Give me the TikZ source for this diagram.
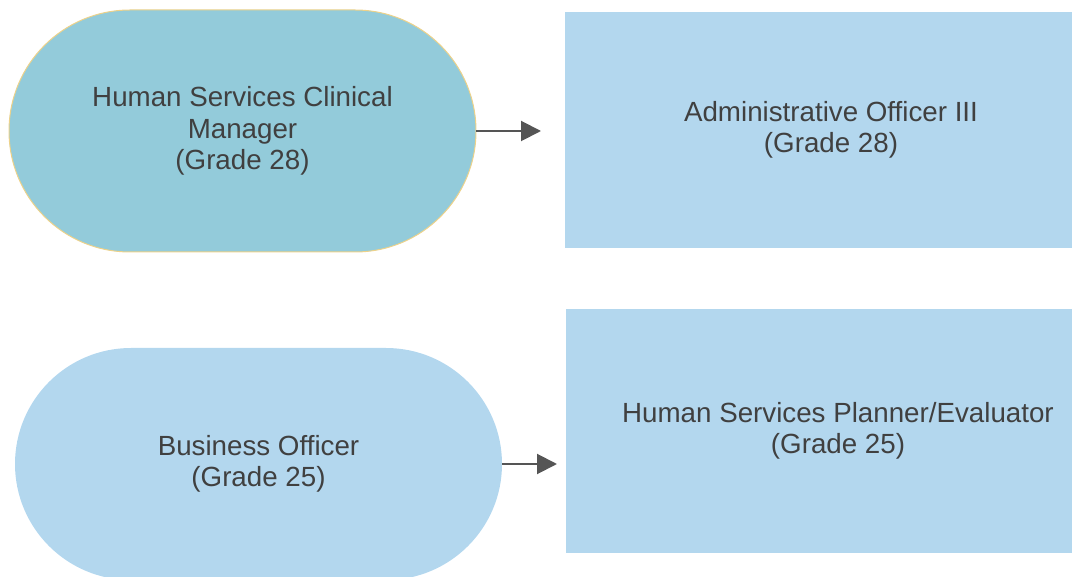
\documentclass[tikz,border=0pt]{standalone}
\usepackage{fontspec}
\setmainfont{Liberation Sans}
\usetikzlibrary{arrows.meta}
\definecolor{tealfill}{HTML}{93CBDA}
\definecolor{skyfill}{HTML}{B3D7EE}
\definecolor{goldline}{HTML}{EDD28A}
\definecolor{inktext}{HTML}{404040}
\definecolor{arrowgray}{HTML}{555555}

\begin{document}
\begin{tikzpicture}[x=0.75pt,y=0.75pt,yscale=-1,xscale=1,
    every node/.style={align=center,text=inktext,inner sep=0pt,outer sep=0pt,
        font=\fontsize{20.8}{23.5}\selectfont},
    pill/.style={rectangle,fill=skyfill},
    post/.style={rectangle,fill=skyfill},
    link/.style={draw=arrowgray,line width=1.5pt,-{Triangle[length=15pt,width=15pt]}}]
    \useasboundingbox (0,0) rectangle (1072,577);

    % Top row
    \node [pill,fill=tealfill,draw=goldline,line width=0.75pt,minimum width=350.25pt,minimum height=181.5pt,rounded corners=90.75pt] (hscm) at (242.5,131) {Human Services Clinical\\Manager\\(Grade 28)};
    \node [post,minimum width=399pt,minimum height=177pt] (aoiii) at (831,130) {Administrative Officer III\\(Grade 28)};

    % Bottom row
    \node [pill,minimum width=365.25pt,minimum height=174pt,rounded corners=87pt] (bo) at (258.5,464) {Business Officer\\(Grade 25)};
    \node [post,minimum width=408pt,minimum height=183pt] (hspe) at (838,431) {Human Services Planner/Evaluator\\(Grade 25)};

    % Arrows
    \draw [link,shorten >=18pt] (hscm.east) -- (hscm.east -| aoiii.west);
    \draw [link,shorten >=6.75pt] (bo.east) -- (bo.east -| hspe.west);

\end{tikzpicture}
\end{document}
